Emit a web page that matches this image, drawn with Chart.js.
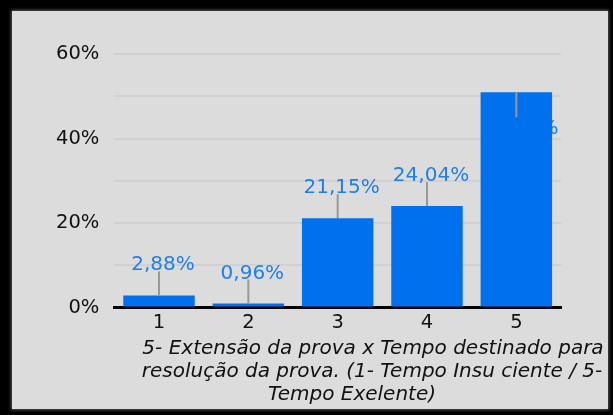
<!DOCTYPE html>
<html>
<head>
<meta charset="utf-8">
<script src="https://cdn.jsdelivr.net/npm/chart.js@4/dist/chart.umd.min.js"></script>
<style>
  html, body { margin: 0; padding: 0; background: #000; }
  body { width: 613px; height: 415px; position: relative; overflow: hidden; }
  #frame {
    position: absolute; left: 12px; top: 11px; width: 596px; height: 398px;
    background: #dcdcdc;
    box-shadow: 0 0 3px 1px #555;
  }
  #wrap { position: absolute; left: 0; top: 0; width: 613px; height: 415px; }
</style>
</head>
<body>
<div id="frame"></div>
<div id="wrap"><canvas id="chart"></canvas></div>
<script>
// dados
const categorias = ['1', '2', '3', '4', '5'];
const valores = [2.88, 0.96, 21.15, 24.04, 50.96];
const rotulos = ['2,88%', '0,96%', '21,15%', '24,04%', '50,96%'];
const legenda = [
  '5- Extensão da prova x Tempo destinado para',
  'resolução da prova. (1- Tempo Insu ciente / 5-',
  'Tempo Exelente)'
];

const FONT = '"DejaVu Sans", Verdana, sans-serif';
const barColor = '#0070ee';
const labelColor = '#1f7fe8';

const dentro = (i) => valores[i] > 45;
const pontaLinha = (bar, i) => (dentro(i) ? bar.y + 25 : bar.y - 24);

// texto dos rótulos: desenhado antes das barras (fica por baixo)
const labelsPlugin = {
  id: 'rotulos',
  beforeDatasetsDraw(chart) {
    const ctx = chart.ctx;
    const meta = chart.getDatasetMeta(0);
    ctx.save();
    ctx.font = '20px ' + FONT;
    ctx.textAlign = 'center';
    ctx.textBaseline = 'alphabetic';
    ctx.fillStyle = labelColor;
    meta.data.forEach((bar, i) => {
      const y1 = pontaLinha(bar, i);
      ctx.fillText(rotulos[i], bar.x + 4, dentro(i) ? y1 + 17 : y1 - 1);
    });
    ctx.restore();
  },
  // linhas de chamada por cima
  afterDatasetsDraw(chart) {
    const ctx = chart.ctx;
    const meta = chart.getDatasetMeta(0);
    ctx.save();
    ctx.strokeStyle = '#999';
    ctx.lineWidth = 2;
    meta.data.forEach((bar, i) => {
      ctx.beginPath();
      ctx.moveTo(bar.x, bar.y);
      ctx.lineTo(bar.x, pontaLinha(bar, i));
      ctx.stroke();
    });
    ctx.restore();
  }
};

// título do eixo (abaixo)
const captionPlugin = {
  id: 'legenda',
  afterDraw(chart) {
    const ctx = chart.ctx;
    const centros = [373, 372, 352];
    ctx.save();
    ctx.font = 'italic 20px ' + FONT;
    ctx.fillStyle = '#111';
    ctx.textAlign = 'center';
    legenda.forEach((t, i) => ctx.fillText(t, centros[i], 354 + i * 23));
    ctx.restore();
  }
};

new Chart(document.getElementById('chart'), {
  type: 'bar',
  data: {
    labels: categorias,
    datasets: [{
      data: valores,
      backgroundColor: barColor,
      borderWidth: 0,
      barPercentage: 0.8,
      categoryPercentage: 1
    }]
  },
  options: {
    responsive: true,
    maintainAspectRatio: false,
    animation: false,
    layout: { padding: { left: 41, right: 52, top: 54, bottom: 76 } },
    plugins: { legend: { display: false }, tooltip: { enabled: false } },
    scales: {
      x: {
        grid: { display: false, drawTicks: false },
        border: { color: '#000', width: 3 },
        ticks: { color: '#111', font: { family: FONT, size: 19.5 }, padding: 4 }
      },
      y: {
        min: 0, max: 60,
        grid: { color: '#d1d1d1', lineWidth: 2, drawTicks: false },
        border: { display: false },
        ticks: {
          stepSize: 10,
          padding: 15,
          color: '#111',
          font: { family: FONT, size: 19.5 },
          callback: (v) => (v % 20 === 0 ? v + '%' : '')
        }
      }
    }
  },
  plugins: [labelsPlugin, captionPlugin]
});
</script>
</body>
</html>
